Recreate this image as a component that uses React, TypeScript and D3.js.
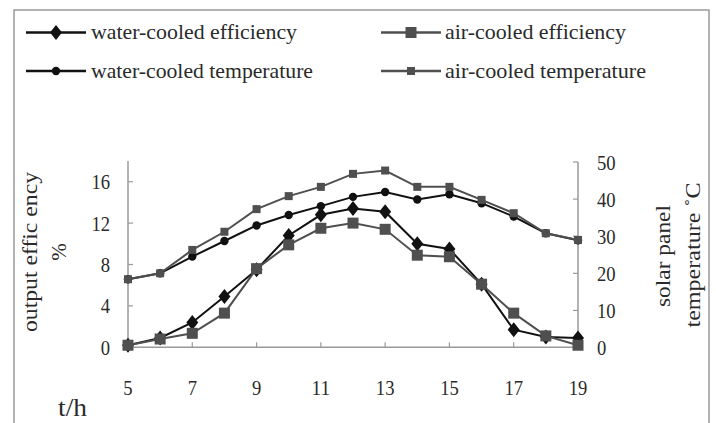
import React from "react";
import * as d3 from "d3";

const hours = [5, 6, 7, 8, 9, 10, 11, 12, 13, 14, 15, 16, 17, 18, 19];
const waterEff = [0.2, 0.9, 2.4, 4.9, 7.5, 10.8, 12.8, 13.4, 13.1, 10.0, 9.5, 6.1, 1.7, 1.0, 0.9];
const airEff = [0.2, 0.8, 1.35, 3.3, 7.6, 9.9, 11.5, 12.0, 11.4, 8.9, 8.75, 6.1, 3.3, 1.1, 0.2];
const waterTemp = [18.4, 20.0, 24.5, 28.7, 32.9, 35.7, 38.1, 40.6, 41.9, 39.9, 41.3, 38.9, 35.3, 30.8, 28.9];
const airTemp = [18.4, 20.0, 26.3, 31.2, 37.3, 40.8, 43.3, 46.8, 47.7, 43.3, 43.3, 39.8, 36.2, 30.8, 29.0];

const xTicks = [5, 7, 9, 11, 13, 15, 17, 19];
const leftTicks = [0, 4, 8, 12, 16];
const rightTicks = [0, 10, 20, 30, 40, 50];

const FONT = "Liberation Serif, serif";
const BLACK = "#111";
const GRAY = "#4f4f4f";
const AXIS = "#9a9a9a";
const TEXT = "#2a2a2a";

type Marker = "diamond" | "bigSquare" | "dot" | "smallSquare";

function MarkerShape({ kind, x, y, color }: { kind: Marker; x: number; y: number; color: string }) {
  if (kind === "diamond") {
    return <path d={`M${x},${y - 7.5} L${x + 6},${y} L${x},${y + 7.5} L${x - 6},${y} Z`} fill={color} />;
  }
  if (kind === "bigSquare") {
    return <rect x={x - 5.5} y={y - 5.5} width={11} height={11} fill={color} />;
  }
  if (kind === "smallSquare") {
    return <rect x={x - 4} y={y - 4} width={8} height={8} fill={color} />;
  }
  return <circle cx={x} cy={y} r={4.2} fill={color} />;
}

export default function App() {
  const x = d3.scaleLinear().domain([5, 19]).range([128, 578]);
  const yL = d3.scaleLinear().domain([0, 18]).range([347.3, 161]);
  const yR = d3.scaleLinear().domain([0, 50]).range([347.5, 162]);

  const series = [
    { name: "water-cooled efficiency", values: waterEff, y: yL, color: BLACK, marker: "diamond" as Marker },
    { name: "air-cooled efficiency", values: airEff, y: yL, color: GRAY, marker: "bigSquare" as Marker },
    { name: "water-cooled temperature", values: waterTemp, y: yR, color: BLACK, marker: "dot" as Marker },
    { name: "air-cooled temperature", values: airTemp, y: yR, color: GRAY, marker: "smallSquare" as Marker },
  ];

  const legendPos = [
    { lx: 26, ly: 32.5, tx: 91, ty: 39, tl: 206 },
    { lx: 381, ly: 32.5, tx: 445, ty: 39, tl: 181 },
    { lx: 26, ly: 71, tx: 91, ty: 78, tl: 222 },
    { lx: 381, ly: 71, tx: 445, ty: 78, tl: 201 },
  ];

  const tickFont = 22;
  const digitW = 9.3;

  return (
    <svg width={716} height={423} style={{ position: "absolute", left: 0, top: 0, background: "#fff" }}
      fontFamily={FONT}>
      <rect x={0} y={0} width={716} height={423} fill="#fff" />
      <rect x={14} y={10} width={695} height={430} fill="none" stroke={AXIS} strokeWidth={1.5} />

      {/* legend */}
      {series.map((s, i) => {
        const p = legendPos[i];
        return (
          <g key={s.name}>
            <line x1={p.lx} x2={p.lx + 60} y1={p.ly} y2={p.ly} stroke={s.color} strokeWidth={2.6} />
            <MarkerShape kind={s.marker} x={p.lx + 30} y={p.ly} color={s.color} />
            <text x={p.tx} y={p.ty} fontSize={22} fill={TEXT} textLength={p.tl} lengthAdjust="spacingAndGlyphs">
              {s.name}
            </text>
          </g>
        );
      })}

      {/* axes */}
      <line x1={x(5)} x2={x(5)} y1={yL(18)} y2={yL(0)} stroke={AXIS} strokeWidth={1.5} />
      <line x1={x(19)} x2={x(19)} y1={yR(50)} y2={yR(0)} stroke={AXIS} strokeWidth={1.5} />
      <line x1={x(5)} x2={x(19)} y1={yL(0)} y2={yL(0)} stroke={AXIS} strokeWidth={1.5} />

      {leftTicks.map((t) => (
        <g key={"l" + t}>
          <line x1={x(5)} x2={x(5) + 5} y1={yL(t)} y2={yL(t)} stroke={AXIS} strokeWidth={1.2} />
          <text x={110 - String(t).length * digitW} y={yL(t) + 7.5} fontSize={tickFont} fill={TEXT}
            textLength={String(t).length * digitW} lengthAdjust="spacingAndGlyphs">{t}</text>
        </g>
      ))}
      {rightTicks.map((t) => (
        <g key={"r" + t}>
          <line x1={x(19) - 5} x2={x(19)} y1={yR(t)} y2={yR(t)} stroke={AXIS} strokeWidth={1.2} />
          <text x={597} y={yR(t) + 7.5} fontSize={tickFont} fill={TEXT}
            textLength={String(t).length * digitW} lengthAdjust="spacingAndGlyphs">{t}</text>
        </g>
      ))}
      {xTicks.map((t) => (
        <g key={"x" + t}>
          <line x1={x(t)} x2={x(t)} y1={yL(0)} y2={yL(0) - 5} stroke={AXIS} strokeWidth={1.2} />
          <text x={x(t) - (String(t).length * digitW) / 2} y={395} fontSize={tickFont} fill={TEXT}
            textLength={String(t).length * digitW} lengthAdjust="spacingAndGlyphs">{t}</text>
        </g>
      ))}

      {/* axis titles */}
      <text transform="translate(37,252) rotate(-90)" fontSize={21} textAnchor="middle" fill={TEXT}
        textLength={160} lengthAdjust="spacingAndGlyphs">output effic ency</text>
      <text transform="translate(66,252) rotate(-90)" fontSize={21} textAnchor="middle" fill={TEXT}>%</text>
      <text transform="translate(670,256) rotate(-90)" fontSize={21} textAnchor="middle" fill={TEXT}
        textLength={102} lengthAdjust="spacingAndGlyphs">solar panel</text>
      <text transform="translate(700,255) rotate(-90)" fontSize={21} textAnchor="middle" fill={TEXT}
        textLength={145} lengthAdjust="spacingAndGlyphs">temperature  ˚C</text>
      <text x={58} y={416} fontSize={26} fill={TEXT} textLength={29} lengthAdjust="spacingAndGlyphs">t/h</text>

      {/* series */}
      {series.map((s) => {
        const line = d3.line<number>().x((_, i) => x(hours[i])).y((v) => s.y(v));
        return (
          <g key={"s" + s.name}>
            <path d={line(s.values) || ""} fill="none" stroke={s.color} strokeWidth={2} />
            {s.values.map((v, i) => (
              <MarkerShape key={i} kind={s.marker} x={x(hours[i])} y={s.y(v)} color={s.color} />
            ))}
          </g>
        );
      })}
    </svg>
  );
}
